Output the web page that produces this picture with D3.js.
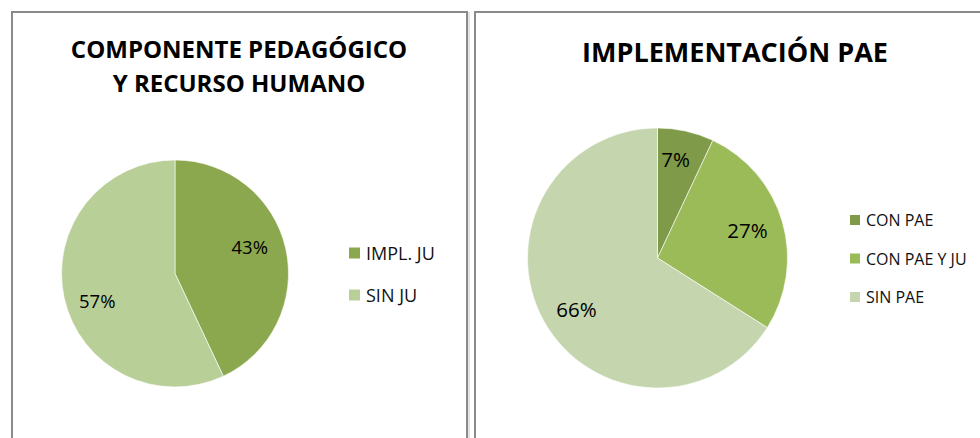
<!DOCTYPE html>
<html><head><meta charset="utf-8">
<script src="https://cdn.jsdelivr.net/npm/d3@7"></script>
<style>body{margin:0;background:#fff}svg{display:block}</style>
</head><body>
<script>
const leftTitle = ["COMPONENTE PEDAGÓGICO", "Y RECURSO HUMANO"];
const leftCategories = ["IMPL. JU", "SIN JU"];
const leftValues = [43, 57];
const leftColors = ["#8BA84F", "#B9CF98"];

const rightTitle = ["IMPLEMENTACIÓN PAE"];
const rightCategories = ["CON PAE", "CON PAE Y JU", "SIN PAE"];
const rightValues = [7, 27, 66];
const rightColors = ["#7F9A48", "#9BBB59", "#C5D6AE"];

const W = 980, H = 438;
const svg = d3.select("body").append("svg").attr("width", W).attr("height", H);
const font = "'Open Sans', Carlito, Calibri, sans-serif";

// panel borders
svg.append("rect").attr("x", 12).attr("y", 12).attr("width", 455).attr("height", 440)
  .attr("fill", "none").attr("stroke", "#8a8a8a").attr("stroke-width", 2);
svg.append("line").attr("x1", 469).attr("x2", 469).attr("y1", 12).attr("y2", 438)
  .attr("stroke", "#c8c8c8").attr("stroke-width", 1);
svg.append("rect").attr("x", 475).attr("y", 12).attr("width", 520).attr("height", 440)
  .attr("fill", "none").attr("stroke", "#8a8a8a").attr("stroke-width", 2);

function drawPie(opt) {
  const g = svg.append("g");
  opt.title.forEach((t, i) => {
    g.append("text").attr("x", opt.titleX).attr("y", opt.titleY + i * opt.titleLH)
      .attr("text-anchor", "middle").attr("font-family", font).attr("font-weight", "bold")
      .attr("font-size", opt.titleSize).attr("fill", "#000").text(t);
  });
  const pie = d3.pie().sort(null).value(d => d)(opt.values);
  const arc = d3.arc().innerRadius(0).outerRadius(opt.r);
  const color = d3.scaleOrdinal().domain(opt.categories).range(opt.colors);
  const pg = g.append("g").attr("transform", `translate(${opt.cx},${opt.cy})`);
  pg.selectAll("path").data(pie).join("path")
    .attr("d", arc).attr("fill", (d, i) => color(opt.categories[i]))
    .attr("stroke", "#fff").attr("stroke-width", 0.6);
  pg.selectAll("text").data(pie).join("text")
    .attr("transform", (d, i) => {
      const a = (d.startAngle + d.endAngle) / 2;
      const rr = opt.r * opt.labelR[i];
      const [nx, ny] = opt.nudge[i];
      return `translate(${Math.sin(a) * rr + nx},${-Math.cos(a) * rr + ny})`;
    })
    .attr("text-anchor", "middle").attr("dominant-baseline", "central")
    .attr("font-family", font).attr("font-size", opt.labelSize).attr("fill", "#000")
    .text(d => d.data + "%");
  const lg = g.append("g");
  opt.categories.forEach((c, i) => {
    const y = opt.legY + i * opt.legStep;
    lg.append("rect").attr("x", opt.legX).attr("y", y - opt.sq / 2).attr("width", opt.sq).attr("height", opt.sq)
      .attr("fill", color(c));
    lg.append("text").attr("x", opt.legX + opt.sq + 6).attr("y", y).attr("dominant-baseline", "central")
      .attr("font-family", font).attr("font-size", opt.legSize).attr("fill", "#111").text(c);
  });
}

drawPie({
  title: leftTitle, titleX: 239, titleY: 58, titleLH: 34, titleSize: 24,
  values: leftValues, categories: leftCategories, colors: leftColors,
  cx: 175, cy: 273.5, r: 113.5, labelR: [0.72, 0.72], nudge: [[-5, -9], [2, 9]], labelSize: 18.5,
  legX: 349, legY: 253, legStep: 42, sq: 11, legSize: 18
});
drawPie({
  title: rightTitle, titleX: 735, titleY: 62, titleLH: 34, titleSize: 27,
  values: rightValues, categories: rightCategories, colors: rightColors,
  cx: 657.5, cy: 258, r: 130, labelR: [0.78, 0.72, 0.72], nudge: [[-4, 0], [0, -2], [1, 6]], labelSize: 20.5,
  legX: 850, legY: 220, legStep: 38.5, sq: 10, legSize: 16
});
</script>
</body></html>
